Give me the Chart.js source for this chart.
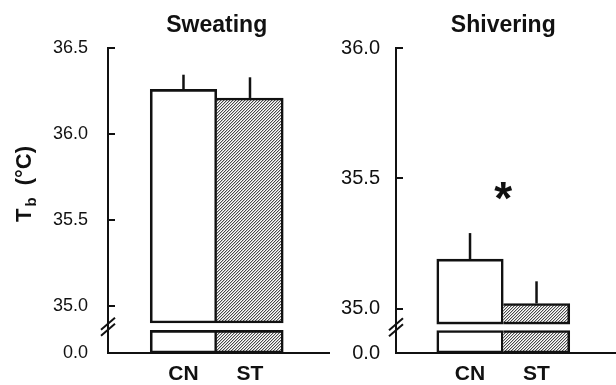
<!DOCTYPE html>
<html>
<head>
<meta charset="utf-8">
<script src="https://cdn.jsdelivr.net/npm/chart.js@4.4.1/dist/chart.umd.min.js"></script>
<style>
  body { margin: 0; background: #fff; }
  #wrap { position: relative; width: 616px; height: 385px; }
  canvas { position: absolute; top: 0; }
</style>
</head>
<body>
<div id="wrap">
  <canvas id="sweat" width="330" height="385" style="left:0"></canvas>
  <canvas id="shiver" width="300" height="385" style="left:316px"></canvas>
</div>
<script>
// data
const groups = ['CN', 'ST'];
const panelTitles = ['Sweating', 'Shivering'];
const sweatingMean = [36.26, 36.21];
const sweatingSem = [0.085, 0.12];
const shiveringMean = [35.19, 35.02];
const shiveringSem = [0.10, 0.085];
const sweatingTicks = [35.0, 35.5, 36.0, 36.5];
const shiveringTicks = [35.0, 35.5, 36.0];
const zeroLabel = '0.0';

const INK = '#111';
const FONT = '"Liberation Sans", Arial, Helvetica, sans-serif';
Chart.defaults.font.family = FONT;
Chart.defaults.color = INK;

// fine "////" hatching, pixel exact
function hatch() {
  const c = document.createElement('canvas');
  c.width = 3; c.height = 3;
  const g = c.getContext('2d');
  const shade = ['#c4c4c4', '#ffffff', '#4a4a4a'];
  for (let i = 0; i < 3; i++) {
    for (let j = 0; j < 3; j++) {
      g.fillStyle = shade[(i + j) % 3];
      g.fillRect(i, j, 1, 1);
    }
  }
  return g.createPattern(c, 'repeat');
}
const stripes = hatch();

function line(ctx, x1, y1, x2, y2) {
  ctx.beginPath();
  ctx.moveTo(x1, y1);
  ctx.lineTo(x2, y2);
  ctx.stroke();
}

function decor(p) {
  return {
    id: 'decor',
    afterDatasetsDraw(chart) {
      const { ctx, chartArea: a, scales: { x, y } } = chart;
      ctx.save();
      ctx.strokeStyle = INK;
      ctx.lineWidth = 2;
      // tick marks point inwards
      p.ticks.forEach(v => {
        const py = Math.round(y.getPixelForValue(v));
        line(ctx, a.left, py, a.left + 7, py);
      });
      // axis break
      const mid = (y.getPixelForValue(p.breakHigh) + y.getPixelForValue(p.breakLow)) / 2;
      [-3, 3].forEach(d => line(ctx, a.left - 7, mid + d + 6, a.left + 7, mid + d - 6));
      // error bars (upper half only)
      ctx.lineWidth = 2.5;
      p.mean.forEach((m, i) => {
        const px = x.getPixelForValue(i + 1);
        line(ctx, px, y.getPixelForValue(m), px, y.getPixelForValue(m + p.sem[i]));
      });
      // panel title
      ctx.fillStyle = INK;
      ctx.textAlign = 'center';
      ctx.textBaseline = 'middle';
      ctx.font = 'bold 23px ' + FONT;
      ctx.fillText(p.title, x.getPixelForValue(1.5), 26);
      if (p.star) {
        ctx.font = 'bold 46px ' + FONT;
        ctx.textBaseline = 'alphabetic';
        const m = ctx.measureText('*');
        const cy = y.getPixelForValue(p.star);
        ctx.fillText('*', x.getPixelForValue(1.5), cy + (m.actualBoundingBoxAscent - m.actualBoundingBoxDescent) / 2);
      }
      if (p.yTitle) {
        ctx.translate(25, 184);
        ctx.rotate(-Math.PI / 2);
        ctx.textAlign = 'left';
        ctx.textBaseline = 'middle';
        const big = 'bold 22px ' + FONT;
        const small = 'bold 15px ' + FONT;
        const rest = '(°C)';
        ctx.font = big; const wT = ctx.measureText('T').width; const wR = ctx.measureText(rest).width;
        ctx.font = small; const wb = ctx.measureText('b').width;
        let sx = -(wT + 2 + wb + 12 + wR) / 2;
        ctx.font = big; ctx.fillText('T', sx, 0); sx += wT + 2;
        ctx.font = small; ctx.fillText('b', sx, 7); sx += wb + 12;
        ctx.font = big; ctx.fillText(rest, sx, 0);
      }
      ctx.restore();
    }
  };
}

function panel(id, p) {
  const fills = ['#fff', stripes];
  const widths = ctx => ctx.dataIndex === 0
    ? { top: 2.6, left: 2.6, right: 2.6, bottom: 2.6 }
    : { top: 2.6, left: 0, right: 2.6, bottom: 2.6 };
  const common = {
    backgroundColor: ctx => fills[ctx.dataIndex],
    borderColor: INK,
    borderWidth: widths,
    borderSkipped: false,
    grouped: false,
    barPercentage: 1,
    categoryPercentage: 1
  };
  return new Chart(document.getElementById(id), {
    type: 'bar',
    data: {
      datasets: [
        Object.assign({ label: 'upper', data: groups.map((g, i) => ({ x: i + 1, y: [p.breakHigh, p.mean[i]] })) }, common),
        Object.assign({ label: 'lower', data: groups.map((g, i) => ({ x: i + 1, y: [p.yMin, p.breakLow] })) }, common)
      ]
    },
    options: {
      responsive: false,
      animation: false,
      layout: { padding: { top: 48, left: 0, right: 0, bottom: 0 } },
      plugins: { legend: { display: false }, tooltip: { enabled: false } },
      scales: {
        x: {
          type: 'linear',
          offset: false,
          min: p.xMin, max: p.xMax,
          grid: { display: false, drawTicks: false, offset: false },
          border: { display: true, color: INK, width: 2 },
          afterBuildTicks: s => { s.ticks = groups.map((g, i) => ({ value: i + 1 })); },
          afterFit: s => { s.height = 32; },
          ticks: {
            padding: 9,
            font: { size: 21, weight: 'bold' },
            callback: v => groups[v - 1]
          }
        },
        y: {
          min: p.yMin, max: p.yMax,
          grid: { display: false, drawTicks: false },
          border: { display: true, color: INK, width: 2 },
          afterBuildTicks: s => { s.ticks = [p.yMin].concat(p.ticks).map(v => ({ value: v })); },
          afterFit: s => { s.width = p.axisW; },
          ticks: {
            padding: p.labelPad,
            font: { size: p.tickSize },
            callback: v => v === p.yMin ? zeroLabel : v.toFixed(1)
          }
        }
      }
    },
    plugins: [decor(p)]
  });
}

panel('sweat', {
  title: panelTitles[0], mean: sweatingMean, sem: sweatingSem, ticks: sweatingTicks,
  yMin: 34.73, yMax: 36.5, breakHigh: 34.904, breakLow: 34.861,
  xMin: -0.135, xMax: 3.203, axisW: 108, labelPad: 20, tickSize: 18, yTitle: true
});
panel('shiver', {
  title: panelTitles[1], mean: shiveringMean, sem: shiveringSem, ticks: shiveringTicks,
  yMin: 34.83, yMax: 36.0, breakHigh: 34.941, breakLow: 34.916,
  xMin: -0.113, xMax: 3.195, axisW: 80, labelPad: 16, tickSize: 20, star: 35.45
});
</script>
</body>
</html>
